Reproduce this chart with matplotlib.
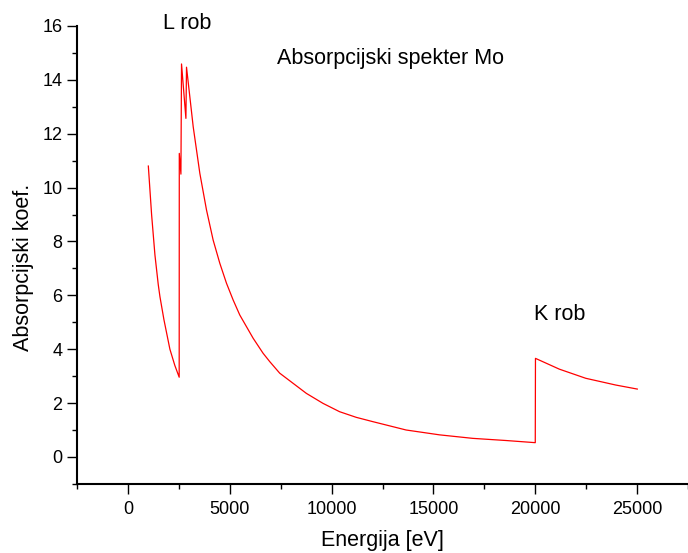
import matplotlib.pyplot as plt
from matplotlib.ticker import MultipleLocator

plt.rcParams['font.family'] = ['Liberation Sans', 'DejaVu Sans']

# Below the L edge
e_low = [1000, 1160, 1324, 1487, 1570, 1765, 2059, 2300, 2515]
mu_low = [10.8, 9.0, 7.5, 6.4, 5.95, 5.1, 4.0, 3.4, 2.96]

# L edge structure and decay up to the K edge
e_mid = [2515, 2520, 2600, 2630, 2845, 2875, 3203, 3529, 3856, 4183, 4510,
         4837, 5163, 5490, 5817, 6144, 6634, 6961, 7451, 8760, 9575, 10390,
         11210, 12025, 13660, 15300, 16930, 18560, 20000]
mu_mid = [2.96, 11.27, 10.5, 14.59, 12.57, 14.47, 12.26, 10.53, 9.17, 8.05, 7.19,
          6.45, 5.83, 5.27, 4.84, 4.41, 3.85, 3.54, 3.11, 2.36, 1.99, 1.68,
          1.47, 1.31, 1.00, 0.82, 0.69, 0.61, 0.53]

# Above the K edge
e_high = [20000, 20010, 21180, 22480, 23950, 25010]
mu_high = [0.53, 3.66, 3.26, 2.92, 2.67, 2.52]

energy = e_low + e_mid[1:] + e_high[1:]
mu = mu_low + mu_mid[1:] + mu_high[1:]

fig = plt.figure(figsize=(6.88, 5.53), dpi=100)
ax = fig.add_axes([0.112, 0.125, 0.888, 0.828])

ax.plot(energy, mu, color='red', linewidth=0.9)

ax.set_xlim(-2500, 27500)
ax.set_ylim(-1, 16)
ax.xaxis.set_major_locator(MultipleLocator(5000))
ax.xaxis.set_minor_locator(MultipleLocator(2500))
ax.yaxis.set_major_locator(MultipleLocator(2))
ax.yaxis.set_minor_locator(MultipleLocator(1))

ax.spines['top'].set_visible(False)
ax.spines['right'].set_visible(False)
ax.spines['left'].set_linewidth(1.5)
ax.spines['bottom'].set_linewidth(1.5)
ax.tick_params(which='major', direction='out', length=7, width=1.0, labelsize=13, pad=3.6)
ax.tick_params(which='minor', direction='out', length=3.6, width=1.0)
ax.tick_params(axis='x', pad=5.5)

ax.set_xlabel('Energija [eV]', fontsize=15.5)
ax.set_ylabel('Absorpcijski koef.', fontsize=15.5)
ax.xaxis.set_label_coords(0.5, -0.100)
ax.yaxis.set_label_coords(-0.070, 0.472)

ax.text(7300, 14.8, 'Absorpcijski spekter Mo', fontsize=15.5, ha='left', va='center')
ax.text(1720, 16.1, 'L rob', fontsize=15.5, ha='left', va='center')
ax.text(19950, 5.3, 'K rob', fontsize=15.5, ha='left', va='center')

fig.savefig('out.png', dpi=100)
